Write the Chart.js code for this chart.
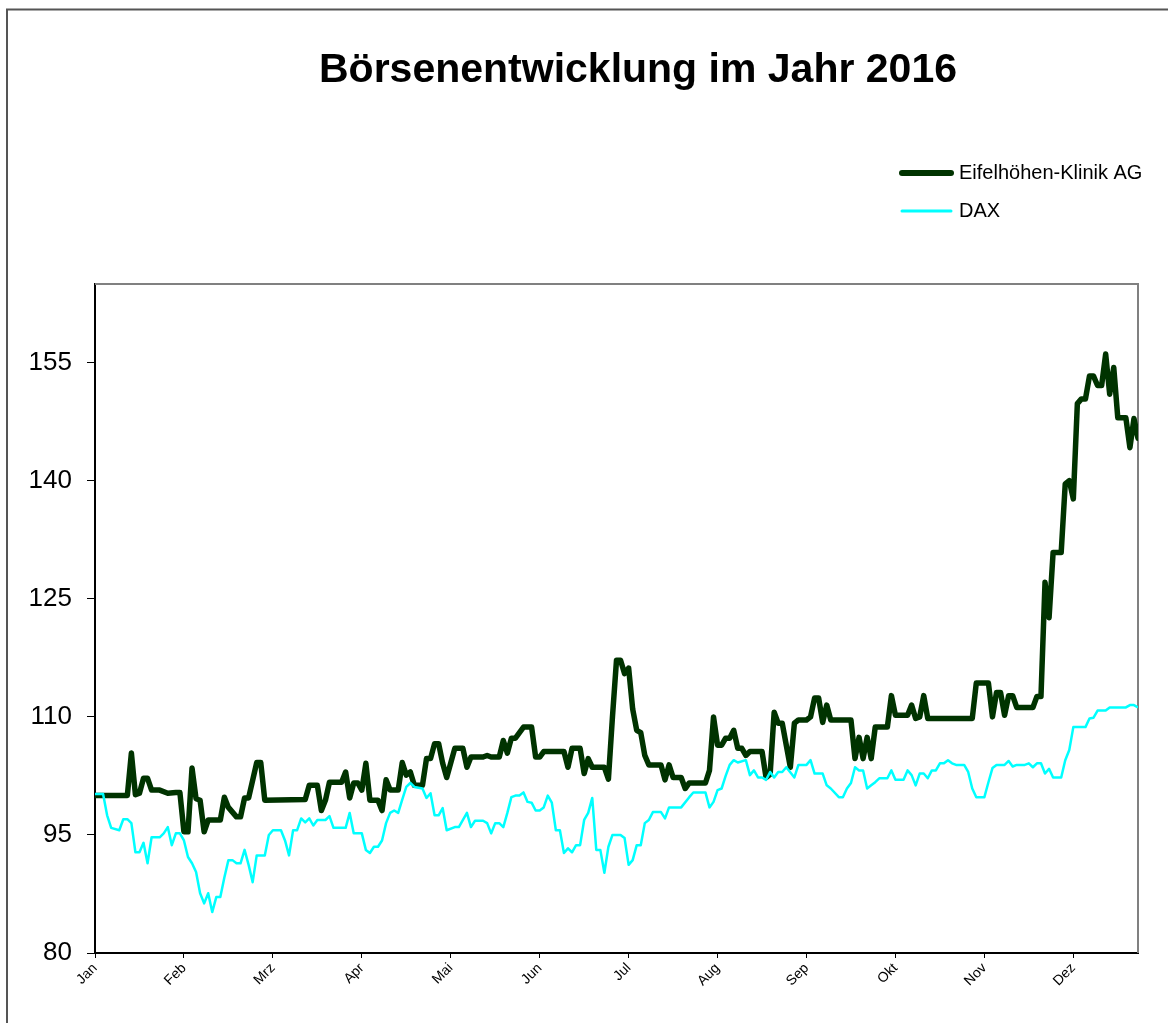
<!DOCTYPE html>
<html><head><meta charset="utf-8">
<script src="https://cdn.jsdelivr.net/npm/chart.js@4/dist/chart.umd.min.js"></script>
<style>html,body{margin:0;padding:0;background:#fff;}#wrap{position:relative;width:1168px;height:1023px;}</style>
</head><body><div id="wrap"><canvas id="c" width="1168" height="1023"></canvas></div>
<script>
const chartTitle = 'Börsenentwicklung im Jahr 2016';
const monthLabels = ['Jan','Feb','Mrz','Apr','Mai','Jun','Jul','Aug','Sep','Okt','Nov','Dez'];
const tradingDaysPerTick = 22;
const lastTradingDay = 258;
const yTicks = [80, 95, 110, 125, 140, 155];
const seriesNames = ['Eifelhöhen-Klinik AG', 'DAX'];

const ekDays = [0,8,9,10,11,12,13,14,16,18,20,21,22,23,24,25,26,27,28,31,32,33,35,36,37,38,40,41,42,52,53,55,56,57,58,61,62,63,64,65,66,67,68,70,71,72,73,75,76,77,78,79,81,82,83,84,85,86,87,89,91,92,93,96,97,98,100,101,102,103,104,106,108,109,110,111,116,117,118,120,121,122,123,126,127,128,129,130,131,132,133,134,135,136,137,140,141,142,143,145,146,147,151,152,153,154,155,156,157,158,159,160,161,162,165,166,167,168,169,170,172,173,174,176,177,178,179,180,181,182,187,188,189,190,191,192,193,196,197,198,201,202,203,204,205,206,217,218,221,222,223,224,225,226,227,228,232,233,234,235,236,237,239,240,241,242,243,244,245,246,247,248,249,250,251,252,253,255,256,257,258];
const ekValues = [100.0,100.0,105.4,100.1,100.3,102.2,102.2,100.7,100.7,100.3,100.4,100.4,95.4,95.4,103.5,99.6,99.4,95.4,96.9,96.9,99.8,98.5,97.3,97.3,99.7,99.7,104.2,104.2,99.4,99.5,101.3,101.3,98.1,99.4,101.7,101.7,103.0,99.7,101.6,101.6,100.7,104.1,99.4,99.4,98.1,102.0,100.7,100.7,104.2,102.6,103.0,101.3,101.3,104.7,104.7,106.6,106.6,104.1,102.3,106.0,106.0,103.6,104.9,104.9,105.1,104.9,104.9,107.0,105.4,107.3,107.3,108.7,108.7,104.9,104.9,105.6,105.6,103.6,106.0,106.0,102.8,104.7,103.6,103.6,102.1,110.0,117.2,117.2,115.5,116.2,111.0,108.3,108.0,105.1,103.9,103.9,102.0,103.9,102.3,102.3,100.9,101.6,101.6,103.2,110.0,106.4,106.4,107.3,107.3,108.3,106.0,106.0,105.1,105.6,105.6,102.3,102.7,110.6,109.2,109.2,103.6,109.2,109.6,109.6,110.0,112.4,112.4,109.3,111.5,109.6,109.6,104.7,107.4,104.7,107.4,104.7,108.7,108.7,112.7,110.2,110.2,111.5,109.8,110.0,112.7,109.8,109.8,114.3,114.3,110.0,113.1,113.1,110.2,112.7,112.7,111.2,111.2,112.6,112.6,127.1,122.6,130.9,130.9,139.6,140.0,137.7,149.8,150.4,150.4,153.3,153.3,152.1,152.1,156.1,151.0,154.4,148.0,148.0,144.2,147.9,145.4];

const daxDays = [0,2,3,4,6,7,8,9,10,11,12,13,14,16,17,18,19,20,21,22,23,24,25,26,27,28,29,30,31,32,33,34,35,36,37,38,39,40,42,43,44,46,47,48,49,50,51,52,53,54,55,57,58,59,62,63,64,66,67,68,69,70,71,72,73,74,75,76,77,78,79,81,82,83,84,85,86,87,89,90,92,93,94,96,97,98,99,100,101,102,103,104,105,106,107,108,109,110,111,112,113,114,115,116,117,118,119,120,121,122,123,124,125,126,127,128,130,131,132,133,134,135,136,137,138,140,141,142,145,147,148,151,152,153,154,155,156,157,158,159,161,162,163,164,165,166,167,168,169,170,171,173,174,176,177,178,180,181,182,184,185,186,187,188,189,190,191,192,193,194,196,197,198,200,201,202,203,204,205,206,207,208,209,210,211,212,213,215,216,217,218,220,221,222,223,225,226,227,228,230,231,232,233,234,235,236,237,239,240,241,242,245,246,247,248,250,251,255,256,257,258];
const daxValues = [100.2,100.2,97.5,95.9,95.6,97.0,97.0,96.5,92.8,92.8,94.0,91.4,94.7,94.7,95.2,96.0,93.7,95.2,95.2,94.3,92.2,91.4,90.3,87.6,86.3,87.6,85.2,87.1,87.1,89.6,91.8,91.8,91.4,91.4,93.1,91.2,89.0,92.4,92.4,95.0,95.6,95.6,94.3,92.4,95.6,95.6,97.1,96.6,97.1,96.2,96.9,96.9,97.4,95.9,95.9,97.8,95.2,95.2,93.1,92.7,93.5,93.5,94.3,96.5,97.8,98.1,97.8,99.5,101.1,101.6,101.1,100.9,99.7,100.3,97.5,97.5,98.4,95.6,96.0,96.0,97.8,96.0,96.8,96.8,96.5,95.2,96.5,96.5,96.0,97.8,99.8,100.0,100.0,100.4,99.2,99.1,98.1,98.1,98.5,100.0,99.1,95.6,95.6,92.7,93.3,92.8,93.7,93.7,96.9,97.8,99.7,93.1,93.1,90.2,93.5,95.0,95.0,94.6,91.2,91.8,93.7,93.7,96.5,96.9,97.9,97.9,97.1,98.5,98.5,99.8,100.4,100.4,98.5,99.2,100.7,100.9,102.5,103.9,104.5,104.2,104.5,102.6,103.2,102.3,102.3,102.0,103.0,102.3,103.0,103.0,103.6,102.3,103.9,103.9,104.5,102.8,102.8,101.3,100.9,99.8,99.8,100.9,101.6,103.6,103.2,103.2,100.9,101.3,101.7,102.2,102.2,103.2,102.0,102.0,103.2,102.6,101.3,102.8,102.8,102.2,103.2,103.2,104.1,104.1,104.5,104.1,103.9,103.9,103.0,100.9,99.8,99.8,101.7,103.5,103.9,103.9,104.4,103.7,103.9,103.9,104.1,103.6,104.1,104.1,102.8,103.4,102.3,102.3,104.5,105.8,108.7,108.7,109.8,109.9,110.8,110.8,111.2,111.2,111.5,111.5,111.2];

const ekColor = '#003300';
const daxColor = '#00FFFF';
const FONT = "'Liberation Sans', Arial, Helvetica, sans-serif";

const toPoints = (xs, ys) => xs.map((d, i) => ({x: d, y: ys[i]}));

const decorPlugin = {
  id: 'decor',
  beforeDraw(chart) {
    const ctx = chart.ctx;
    ctx.save();
    ctx.fillStyle = '#fff';
    ctx.fillRect(0, 0, chart.width, chart.height);
    ctx.strokeStyle = '#555';
    ctx.lineWidth = 2;
    ctx.beginPath();
    ctx.moveTo(7, chart.height);
    ctx.lineTo(7, 9.5);
    ctx.lineTo(chart.width, 9.5);
    ctx.stroke();
    ctx.restore();
  },
  beforeDatasetsDraw(chart) {
    const {ctx, chartArea: a} = chart;
    ctx.save();
    ctx.strokeStyle = '#808080';
    ctx.lineWidth = 2;
    ctx.beginPath();
    ctx.moveTo(a.left, a.top);
    ctx.lineTo(a.right, a.top);
    ctx.lineTo(a.right, a.bottom);
    ctx.stroke();
    ctx.restore();
  },
  afterDraw(chart) {
    const ctx = chart.ctx;
    ctx.save();
    ctx.fillStyle = '#000';
    ctx.font = 'bold 41px ' + FONT;
    ctx.textAlign = 'center';
    ctx.textBaseline = 'alphabetic';
    ctx.fillText(chartTitle, 638, 82);
    const items = [
      {label: chart.data.datasets[0].label, color: chart.data.datasets[0].borderColor, w: 6, y: 173},
      {label: chart.data.datasets[1].label, color: chart.data.datasets[1].borderColor, w: 3, y: 211}
    ];
    ctx.font = '20px ' + FONT;
    ctx.textAlign = 'left';
    ctx.textBaseline = 'middle';
    items.forEach(it => {
      ctx.strokeStyle = it.color;
      ctx.lineWidth = it.w;
      ctx.lineCap = 'round';
      ctx.beginPath();
      ctx.moveTo(902, it.y);
      ctx.lineTo(951, it.y);
      ctx.stroke();
      ctx.fillStyle = '#000';
      ctx.fillText(it.label, 959, it.y);
    });
    ctx.restore();
  }
};

new Chart(document.getElementById('c'), {
  type: 'line',
  data: {
    datasets: [
      {label: seriesNames[0], data: toPoints(ekDays, ekValues), borderColor: ekColor, backgroundColor: ekColor,
       borderWidth: 5.5, pointRadius: 0, tension: 0, borderJoinStyle: 'round', borderCapStyle: 'round', order: 1},
      {label: seriesNames[1], data: toPoints(daxDays, daxValues), borderColor: daxColor, backgroundColor: daxColor,
       borderWidth: 2.5, pointRadius: 0, tension: 0, borderJoinStyle: 'round', order: 0}
    ]
  },
  options: {
    responsive: false,
    animation: false,
    events: [],
    layout: {padding: {top: 284, right: 30, left: 0, bottom: 0}},
    plugins: {legend: {display: false}, title: {display: false}, tooltip: {enabled: false}},
    scales: {
      x: {
        type: 'linear', min: 0, max: lastTradingDay,
        afterBuildTicks: s => { s.ticks = monthLabels.map((m, i) => ({value: i * tradingDaysPerTick})); },
        afterFit: s => { s.height = 70; },
        grid: {drawOnChartArea: false, drawTicks: true, tickLength: 5, color: '#000', lineWidth: 1},
        border: {display: true, color: '#000', width: 2},
        ticks: {
          autoSkip: false, minRotation: 45, maxRotation: 45, padding: 2, color: '#000',
          font: {family: FONT, size: 14},
          callback: v => monthLabels[Math.round(v / tradingDaysPerTick)] || ''
        }
      },
      y: {
        min: 80, max: 165,
        afterBuildTicks: s => { s.ticks = yTicks.map(v => ({value: v})); },
        afterFit: s => { s.width = 95; },
        grid: {drawOnChartArea: false, drawTicks: true, tickLength: 8, color: '#000', lineWidth: 1},
        border: {display: true, color: '#000', width: 2},
        ticks: {padding: 15, color: '#000', font: {family: FONT, size: 26}}
      }
    }
  },
  plugins: [decorPlugin]
});
</script></body></html>
